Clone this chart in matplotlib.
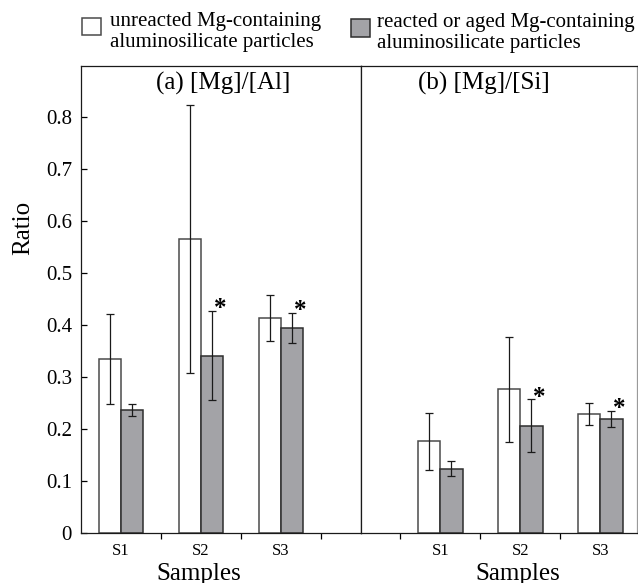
import matplotlib.pyplot as plt
from matplotlib.patches import Rectangle

plt.rcParams['font.family'] = ['Liberation Serif', 'DejaVu Serif']

samples = ['S1', 'S2', 'S3']
series_names = ['unreacted Mg-containing\naluminosilicate particles',
                'reacted or aged Mg-containing\naluminosilicate particles']
fill_colors = ['white', '#a3a3a7']
edge_colors = ['#4a4a4a', '#2e2e2e']

# (a) [Mg]/[Al]
mg_al_unreacted = [0.335, 0.565, 0.414]
mg_al_unreacted_err = [0.086, 0.258, 0.044]
mg_al_reacted = [0.237, 0.341, 0.394]
mg_al_reacted_err = [0.012, 0.086, 0.029]

# (b) [Mg]/[Si]
mg_si_unreacted = [0.176, 0.276, 0.229]
mg_si_unreacted_err = [0.055, 0.101, 0.021]
mg_si_reacted = [0.124, 0.206, 0.219]
mg_si_reacted_err = [0.015, 0.051, 0.015]

# asterisk = significant difference
significant = [False, True, True]

y_ticks = [0, 0.1, 0.2, 0.3, 0.4, 0.5, 0.6, 0.7, 0.8]
y_ticklabels = ['0', '0.1', '0.2', '0.3', '0.4', '0.5', '0.6', '0.7', '0.8']

W, H = 638, 583
fig = plt.figure(figsize=(W / 100, H / 100), dpi=100)
ax_a = fig.add_axes([81 / W, 1 - 533 / H, 280 / W, 467 / H])
ax_b = fig.add_axes([361 / W, 1 - 533 / H, 276 / W, 467 / H], sharey=ax_a)

panels = [
    (ax_a, '(a) [Mg]/[Al]', mg_al_unreacted, mg_al_unreacted_err,
     mg_al_reacted, mg_al_reacted_err, (-0.5, 3.0), 1.28),
    (ax_b, '(b) [Mg]/[Si]', mg_si_unreacted, mg_si_unreacted_err,
     mg_si_reacted, mg_si_reacted_err, (-0.99, 2.46), 0.55),
]

bw = 0.28
x = [0, 1, 2]
for ax, title, v1, e1, v2, e2, xlim, tx in panels:
    x1 = [i - bw / 2 for i in x]
    x2 = [i + bw / 2 for i in x]
    ax.bar(x1, v1, bw, color=fill_colors[0], edgecolor=edge_colors[0], linewidth=1.1, zorder=2)
    ax.bar(x2, v2, bw, color=fill_colors[1], edgecolor=edge_colors[1], linewidth=1.1, zorder=2)
    for xs, vs, es in [(x1, v1, e1), (x2, v2, e2)]:
        ax.errorbar(xs, vs, yerr=es, fmt='none', ecolor='#1a1a1a',
                    elinewidth=0.9, capsize=3, capthick=0.9, zorder=3)
    for i in range(3):
        if significant[i]:
            ax.annotate('*', (x2[i] + 0.1, v2[i] + e2[i]), xytext=(0, -3),
                        textcoords='offset points', ha='center', va='baseline',
                        fontsize=18, fontweight='bold')
    ax.text(tx, 0.8635, title, ha='center', va='center', fontsize=18)
    ax.set_xlim(*xlim)
    ax.set_xticks(x, samples, fontsize=12)
    ax.set_xticks([i + 0.5 for i in range(int(xlim[0] - 0.5), 3) if xlim[0] < i + 0.5 < xlim[1]],
                  minor=True)
    ax.tick_params(axis='x', which='major', length=0, pad=7)
    ax.tick_params(axis='x', which='minor', length=4, width=0.9, direction='out')
    for s in ax.spines.values():
        s.set_linewidth(0.9)
        s.set_color('#1a1a1a')

ax_a.set_ylim(0, 0.898)
ax_a.set_yticks(y_ticks, y_ticklabels, fontsize=15)
ax_a.tick_params(axis='y', direction='in', length=4.5, width=0.9, pad=6.5)
ax_b.tick_params(axis='y', left=False, labelleft=False)
ax_b.spines['right'].set_color('#9a9a9a')

fig.text(23 / W, 1 - 228 / H, 'Ratio', rotation=90, ha='center', va='center', fontsize=18)
fig.text(199 / W, 1 - 580 / H, 'Samples', ha='center', va='baseline', fontsize=18)
fig.text(518 / W, 1 - 580 / H, 'Samples', ha='center', va='baseline', fontsize=18)

# legend drawn above the panels
legend_boxes = [(82, 18, 19, 17), (351, 19, 19, 18)]
legend_text_x = [110, 377]
legend_text_top = [12, 13]
for (lx, ly, lw, lh), tx, ty, name, fc, ec in zip(legend_boxes, legend_text_x, legend_text_top,
                                                series_names, fill_colors, edge_colors):
    fig.add_artist(Rectangle((lx / W, 1 - (ly + lh) / H), lw / W, lh / H,
                             transform=fig.transFigure, facecolor=fc, edgecolor=ec,
                             linewidth=1.1))
    fig.text(tx / W, 1 - ty / H, name, ha='left', va='top', fontsize=15, linespacing=1.15)

fig.savefig('out.png', dpi=100)
